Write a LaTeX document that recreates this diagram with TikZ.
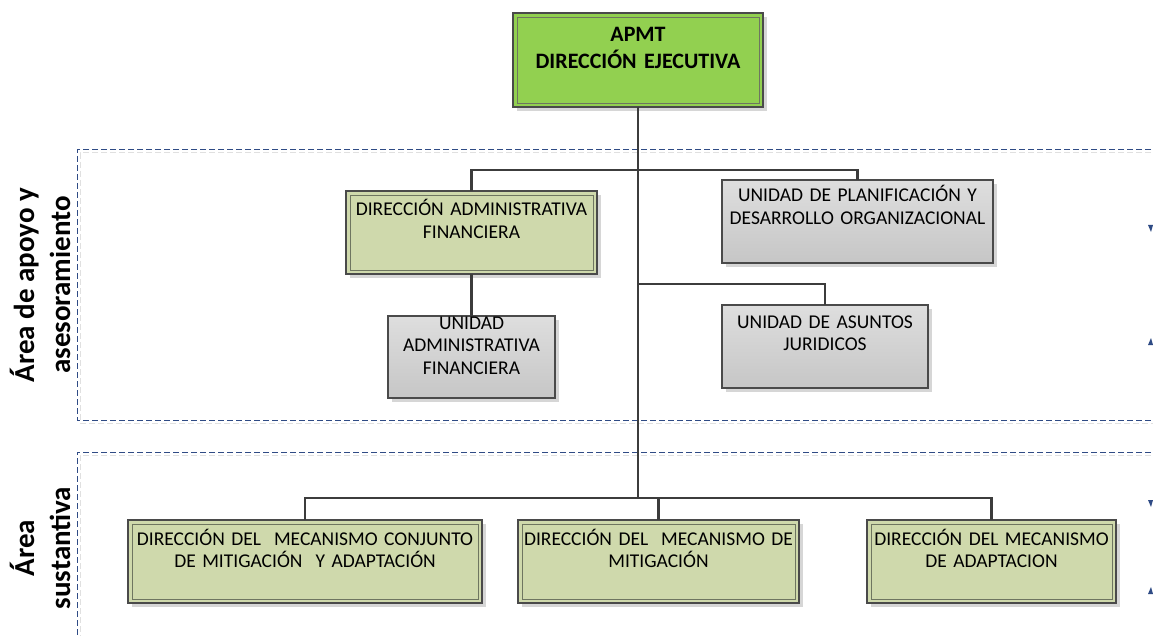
\documentclass[tikz,border=0pt]{standalone}
\usepackage{fontspec}
\setmainfont{Carlito}
\usetikzlibrary{shadows}
\definecolor{connc}{HTML}{3C3C3C}
\definecolor{bordc}{HTML}{4A4A4A}
\definecolor{innerc}{HTML}{6E7560}
\definecolor{greenc}{HTML}{92D050}
\definecolor{olivec}{HTML}{CFD9AC}
\definecolor{graytop}{HTML}{DEDEDE}
\definecolor{graybot}{HTML}{C6C6C6}
\definecolor{navyc}{HTML}{2F4B85}
\tikzset{
  shad/.style={drop shadow={shadow xshift=4pt, shadow yshift=-4pt, fill=black!16, opacity=1}},
  basebox/.style={draw=bordc, line width=1.1pt, inner sep=0pt, outer sep=0pt, anchor=north west, shad},
  greenbox/.style={basebox, fill=greenc},
  olivebox/.style={basebox, fill=olivec},
  graybox/.style={basebox, top color=graytop, bottom color=graybot},
  innerline/.style={draw=innerc, line width=0.9pt},
  txt/.style={font=\fontsize{19.5}{22.5}\selectfont, align=center, anchor=base, inner sep=0pt},
  ttl/.style={font=\bfseries\fontsize{22}{26.5}\selectfont, align=center, anchor=base, inner sep=0pt},
  lbl/.style={font=\bfseries\fontsize{29}{36}\selectfont, align=center, rotate=90, inner sep=0pt},
  connector/.style={draw=connc, line width=2.6pt},
  arealine/.style={draw=navyc, line width=1pt, dash pattern=on 6pt off 3pt},
  areashadow/.style={draw=black!12, line width=1pt, dash pattern=on 6pt off 3pt}
}
\begin{document}
\begin{tikzpicture}[x=1pt,y=-1pt]
\useasboundingbox[fill=white] (0,0) rectangle (1153,636);

% area frames
\draw[areashadow] (1160,153) -- (80,153) -- (80,423) -- (1160,423);
\draw[arealine] (1160,150) -- (77,150) -- (77,420) -- (1160,420);
\draw[areashadow] (1160,455) -- (80,455) -- (80,640);
\draw[arealine] (1160,452) -- (77,452) -- (77,640);

% side labels
\node[lbl] (lab1) at (40,285) {Área de apoyo y\\asesoramiento};
\node[lbl] (lab2) at (40,548) {Área\\sustantiva};

% coordinates for junctions
\coordinate (j1) at (638,170);
\coordinate (j2) at (638,284);
\coordinate (j3) at (638,498);

% boxes
\node[greenbox, minimum width=250pt, minimum height=94pt] (top) at (513,13) {};
\draw[innerline] ([shift={(4pt,-4pt)}]top.north west) rectangle ([shift={(-4pt,4pt)}]top.south east);
\node[ttl, text width=240pt] (toptxt) at (638,42) {APMT\\DIRECCIÓN EJECUTIVA};

\node[olivebox, minimum width=251pt, minimum height=83pt] (daf) at (346,191) {};
\draw[innerline] ([shift={(4pt,-4pt)}]daf.north west) rectangle ([shift={(-4pt,4pt)}]daf.south east);
\node[txt, text width=245pt] (daftxt) at (471.5,216) {DIRECCIÓN ADMINISTRATIVA\\FINANCIERA};

\node[graybox, minimum width=167pt, minimum height=82pt] (uaf) at (388,316) {};
\node[txt, text width=165pt] (uaftxt) at (471.5,329) {UNIDAD\\ADMINISTRATIVA\\FINANCIERA};

\node[graybox, minimum width=271pt, minimum height=83pt] (upd) at (722,180) {};
\node[txt, text width=265pt] (updtxt) at (857.5,202) {UNIDAD DE PLANIFICACIÓN Y\\DESARROLLO ORGANIZACIONAL};

\node[graybox, minimum width=206pt, minimum height=83pt] (asj) at (722,305) {};
\node[txt, text width=200pt] (asjtxt) at (825,328) {UNIDAD DE ASUNTOS\\JURIDICOS};

\node[olivebox, minimum width=354pt, minimum height=83pt] (b1) at (128,520) {};
\draw[innerline] ([shift={(4pt,-4pt)}]b1.north west) rectangle ([shift={(-4pt,4pt)}]b1.south east);
\node[txt, text width=350pt] (b1txt) at (305,545) {DIRECCIÓN DEL\ \ MECANISMO CONJUNTO\\DE MITIGACIÓN\ \ Y ADAPTACIÓN};

\node[olivebox, minimum width=281pt, minimum height=83pt] (b2) at (518,520) {};
\draw[innerline] ([shift={(4pt,-4pt)}]b2.north west) rectangle ([shift={(-4pt,4pt)}]b2.south east);
\node[txt, text width=278pt] (b2txt) at (658.5,545) {DIRECCIÓN DEL\ \ MECANISMO DE\\MITIGACIÓN};

\node[olivebox, minimum width=249pt, minimum height=83pt] (b3) at (867,520) {};
\draw[innerline] ([shift={(4pt,-4pt)}]b3.north west) rectangle ([shift={(-4pt,4pt)}]b3.south east);
\node[txt, text width=245pt] (b3txt) at (991.5,545) {DIRECCIÓN DEL MECANISMO\\DE ADAPTACION};

% connectors
\draw[connector] (top.south) -- (j3);
\draw[connector] (daf.north) |- (j1) -| (upd.north);
\draw[connector] (j2) -| (asj.north);
\draw[connector] (daf.south) -- (uaf.north);
\draw[connector] (b1.north) |- (j3) -| (b3.north);
\draw[connector] (j3) -| (b2.north);

% clipped marks at right edge
\fill[navyc] (1148,225) -- (1153,225) -- (1151,232) -- cycle;
\fill[navyc] (1148,345) -- (1153,345) -- (1151,338) -- cycle;
\fill[navyc] (1148,500) -- (1153,500) -- (1151,507) -- cycle;
\fill[navyc] (1148,594) -- (1153,594) -- (1151,587) -- cycle;
\end{tikzpicture}
\end{document}
